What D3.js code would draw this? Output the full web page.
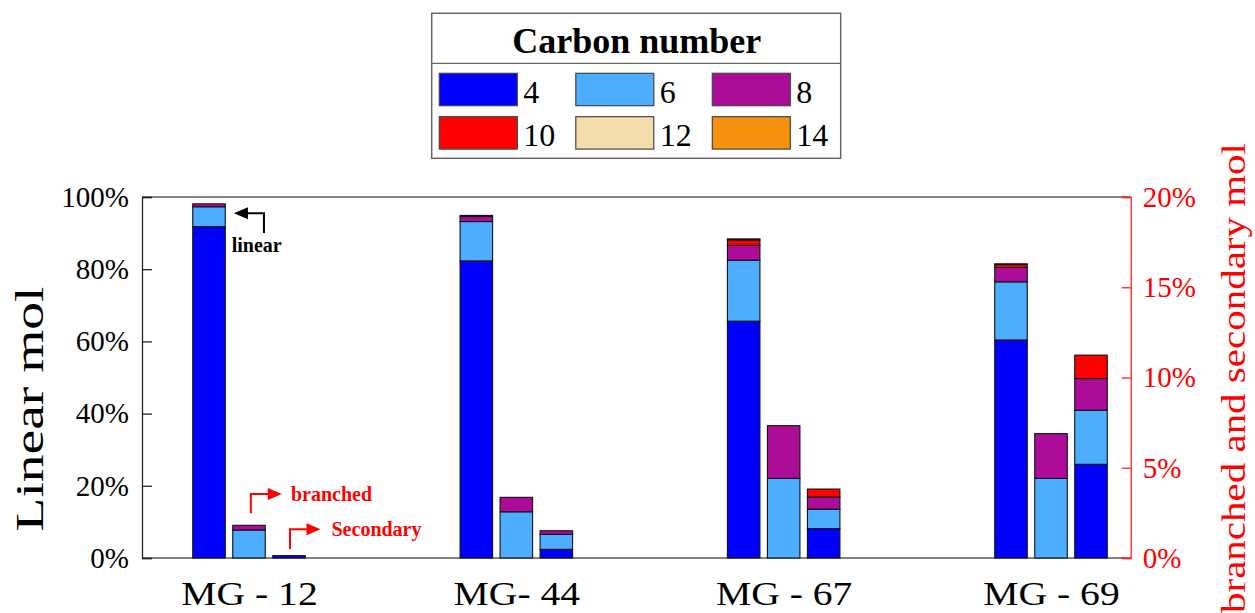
<!DOCTYPE html>
<html>
<head>
<meta charset="utf-8">
<script src="https://cdn.jsdelivr.net/npm/d3@7"></script>
<style>
  body { margin: 0; background: #fff; }
  svg { display: block; font-family: "Liberation Serif", "Times New Roman", serif; }
</style>
</head>
<body>
<svg id="chart" width="1255" height="613"></svg>
<script>
// **** data (percent) ****
var groups = ['MG - 12', 'MG- 44', 'MG - 67', 'MG - 69'];
var carbonNumbers = ['4', '6', '8', '10', '12', '14'];
var barTypes = ['linear', 'branched', 'secondary'];

// one row per group, one value per carbon number (4,6,8,10,12,14)
var linearMol = [
  [91.8, 5.5, 0.8, 0, 0, 0],
  [82.3, 10.9, 1.4, 0.3, 0, 0],
  [65.6, 16.9, 4.1, 1.5, 0.3, 0],
  [60.4, 16.1, 4.0, 0.8, 0.2, 0]
];
var branchedMol = [
  [0, 1.55, 0.26, 0, 0, 0],
  [0, 2.56, 0.80, 0, 0, 0],
  [0, 4.41, 2.92, 0, 0, 0],
  [0, 4.41, 2.48, 0, 0, 0]
];
var secondaryMol = [
  [0.13, 0, 0, 0, 0, 0],
  [0.48, 0.83, 0.2, 0, 0, 0],
  [1.63, 1.08, 0.67, 0.44, 0, 0],
  [5.19, 3.0, 1.75, 1.3, 0, 0]
];
var leftTicks = [0, 20, 40, 60, 80, 100];
var rightTicks = [0, 5, 10, 15, 20];

var colors = ['#0000ff', '#4daeff', '#ad0c98', '#ff0000', '#f2dcac', '#f5910f'];

// **** scales ****
var svg = d3.select('#chart');
var plotLeft = 142, plotRight = 1130.7, plotTop = 197, plotBottom = 558;

var xScale = d3.scalePoint().domain(groups).range([249, 1051]);
var subScale = d3.scaleBand().domain(barTypes).range([-56.25, 56.25]).paddingInner(0.1875);
var yLeft = d3.scaleLinear().domain([0, 100]).range([plotBottom, plotTop]);
var yRight = d3.scaleLinear().domain([0, 20]).range([plotBottom, plotTop]);
var colorScale = d3.scaleOrdinal().domain(carbonNumbers).range(colors);

// box lines
svg.append('line').attr('x1', plotLeft).attr('x2', plotRight).attr('y1', plotTop).attr('y2', plotTop)
  .attr('stroke', '#5a5a5a').attr('stroke-width', 1.3);
svg.append('line').attr('x1', plotLeft).attr('x2', plotRight).attr('y1', plotBottom).attr('y2', plotBottom)
  .attr('stroke', '#5a5a5a').attr('stroke-width', 1.3);

// **** bars ****
var stack = d3.stack().keys(d3.range(carbonNumbers.length));
var series = [
  { type: 'linear', rows: linearMol, y: yLeft },
  { type: 'branched', rows: branchedMol, y: yRight },
  { type: 'secondary', rows: secondaryMol, y: yRight }
];

series.forEach(function (s) {
  var layers = stack(s.rows);
  layers.forEach(function (layer, k) {
    svg.append('g').attr('class', 'layer-' + s.type)
      .selectAll('rect')
      .data(layer.map(function (d, i) { return { g: groups[i], y0: d[0], y1: d[1] }; })
        .filter(function (d) { return d.y1 - d.y0 > 0; }))
      .enter().append('rect')
      .attr('x', function (d) { return xScale(d.g) + subScale(s.type); })
      .attr('width', subScale.bandwidth())
      .attr('y', function (d) { return s.y(d.y1); })
      .attr('height', function (d) { return s.y(d.y0) - s.y(d.y1); })
      .attr('fill', colorScale(carbonNumbers[k]))
      .attr('stroke', '#111')
      .attr('stroke-width', 1.1);
  });
});

// **** axes ****
var axisL = svg.append('g').attr('transform', 'translate(' + plotLeft + ',0)')
  .call(d3.axisLeft(yLeft).tickValues(leftTicks).tickSize(-10).tickPadding(13)
    .tickFormat(function (d) { return d + '%'; }));
axisL.select('.domain').attr('stroke', '#262626').attr('stroke-width', 1.3);
axisL.selectAll('.tick line').attr('stroke', '#262626').attr('stroke-width', 1.3);
axisL.selectAll('text').attr('font-size', 29).attr('font-family', 'Liberation Serif').attr('fill', '#000');

var axisR = svg.append('g').attr('transform', 'translate(' + plotRight + ',0)')
  .call(d3.axisRight(yRight).tickValues(rightTicks).tickSize(-9).tickPadding(12)
    .tickFormat(function (d) { return d + '%'; }));
axisR.select('.domain').attr('stroke', '#ff2020').attr('stroke-width', 1.3);
axisR.selectAll('.tick line').attr('stroke', '#ff2020').attr('stroke-width', 1.3);
axisR.selectAll('text').attr('font-size', 29).attr('font-family', 'Liberation Serif').attr('fill', '#ff0000');

var axisB = svg.append('g').attr('transform', 'translate(0,' + plotBottom + ')')
  .call(d3.axisBottom(xScale).tickSize(0).tickPadding(24));
axisB.select('.domain').remove();
axisB.selectAll('text').attr('font-size', 33).attr('font-family', 'Liberation Serif').attr('fill', '#000')
  .each(function () {
    var len = this.getComputedTextLength();
    d3.select(this).attr('textLength', len * 1.2).attr('lengthAdjust', 'spacingAndGlyphs');
  });

// axis titles
svg.append('text')
  .attr('transform', 'translate(43,409) rotate(-90)')
  .attr('text-anchor', 'middle')
  .attr('font-size', 41)
  .attr('textLength', 245).attr('lengthAdjust', 'spacingAndGlyphs')
  .text('Linear mol');

svg.append('text')
  .attr('transform', 'translate(1245,378) rotate(-90)')
  .attr('text-anchor', 'middle')
  .attr('font-size', 34)
  .attr('fill', '#ff0000')
  .attr('textLength', 470).attr('lengthAdjust', 'spacingAndGlyphs')
  .text('branched and secondary mol');

// **** annotations ****
function elbowArrow(color, pts, tip, dir) {
  svg.append('path')
    .attr('d', d3.line()(pts))
    .attr('fill', 'none').attr('stroke', color).attr('stroke-width', 2);
  var hx = tip[0] - dir * 14;
  svg.append('path')
    .attr('d', d3.line()([[tip[0], tip[1]], [hx, tip[1] - 6], [hx, tip[1] + 6]]) + 'Z')
    .attr('fill', color);
}

var g1 = groups[0];
var linRight = xScale(g1) + subScale('linear') + subScale.bandwidth();
elbowArrow('#000', [[linRight + 38.7, 233], [linRight + 38.7, 213.3], [linRight + 18, 213.3]],
  [linRight + 8.7, 213.3], -1);
svg.append('text').attr('x', linRight + 6.4).attr('y', 251.7)
  .attr('font-size', 20).attr('font-weight', 'bold').text('linear');

var brCenter = xScale(g1) + subScale('branched') + subScale.bandwidth() / 2;
elbowArrow('#ff0000', [[brCenter + 1.8, 513.3], [brCenter + 1.8, 494], [brCenter + 19, 494]],
  [brCenter + 32.8, 494], 1);
svg.append('text').attr('x', brCenter + 42).attr('y', 501)
  .attr('font-size', 20).attr('font-weight', 'bold').attr('fill', '#ff0000').text('branched');

var seCenter = xScale(g1) + subScale('secondary') + subScale.bandwidth() / 2;
elbowArrow('#ff0000', [[seCenter + 1, 549], [seCenter + 1, 529.3], [seCenter + 18, 529.3]],
  [seCenter + 31.5, 529.3], 1);
svg.append('text').attr('x', seCenter + 42.5).attr('y', 535.7)
  .attr('font-size', 20).attr('font-weight', 'bold').attr('fill', '#ff0000').text('Secondary');

// **** legend ****
var legend = svg.append('g').attr('transform', 'translate(431.7,13.3)');
legend.append('rect').attr('width', 409).attr('height', 145)
  .attr('fill', '#fff').attr('stroke', '#666').attr('stroke-width', 1.5);
legend.append('line').attr('x1', 0).attr('x2', 409).attr('y1', 50).attr('y2', 50)
  .attr('stroke', '#666').attr('stroke-width', 1.3);
legend.append('text').attr('x', 205).attr('y', 39.4).attr('text-anchor', 'middle')
  .attr('font-size', 36).attr('font-weight', 'bold').text('Carbon number');

var items = legend.selectAll('g.item')
  .data(carbonNumbers).enter().append('g')
  .attr('class', 'item')
  .attr('transform', function (d, i) {
    return 'translate(' + (7.6 + (i % 3) * 136.5) + ',' + (60 + Math.floor(i / 3) * 43.4) + ')';
  });
items.append('rect').attr('width', 78).attr('height', 32.4)
  .attr('fill', function (d) { return colorScale(d); })
  .attr('stroke', '#444').attr('stroke-width', 1.2);
items.append('text').attr('x', 84).attr('y', 29.4)
  .attr('font-size', 32).text(function (d) { return d; });
</script>
</body>
</html>
